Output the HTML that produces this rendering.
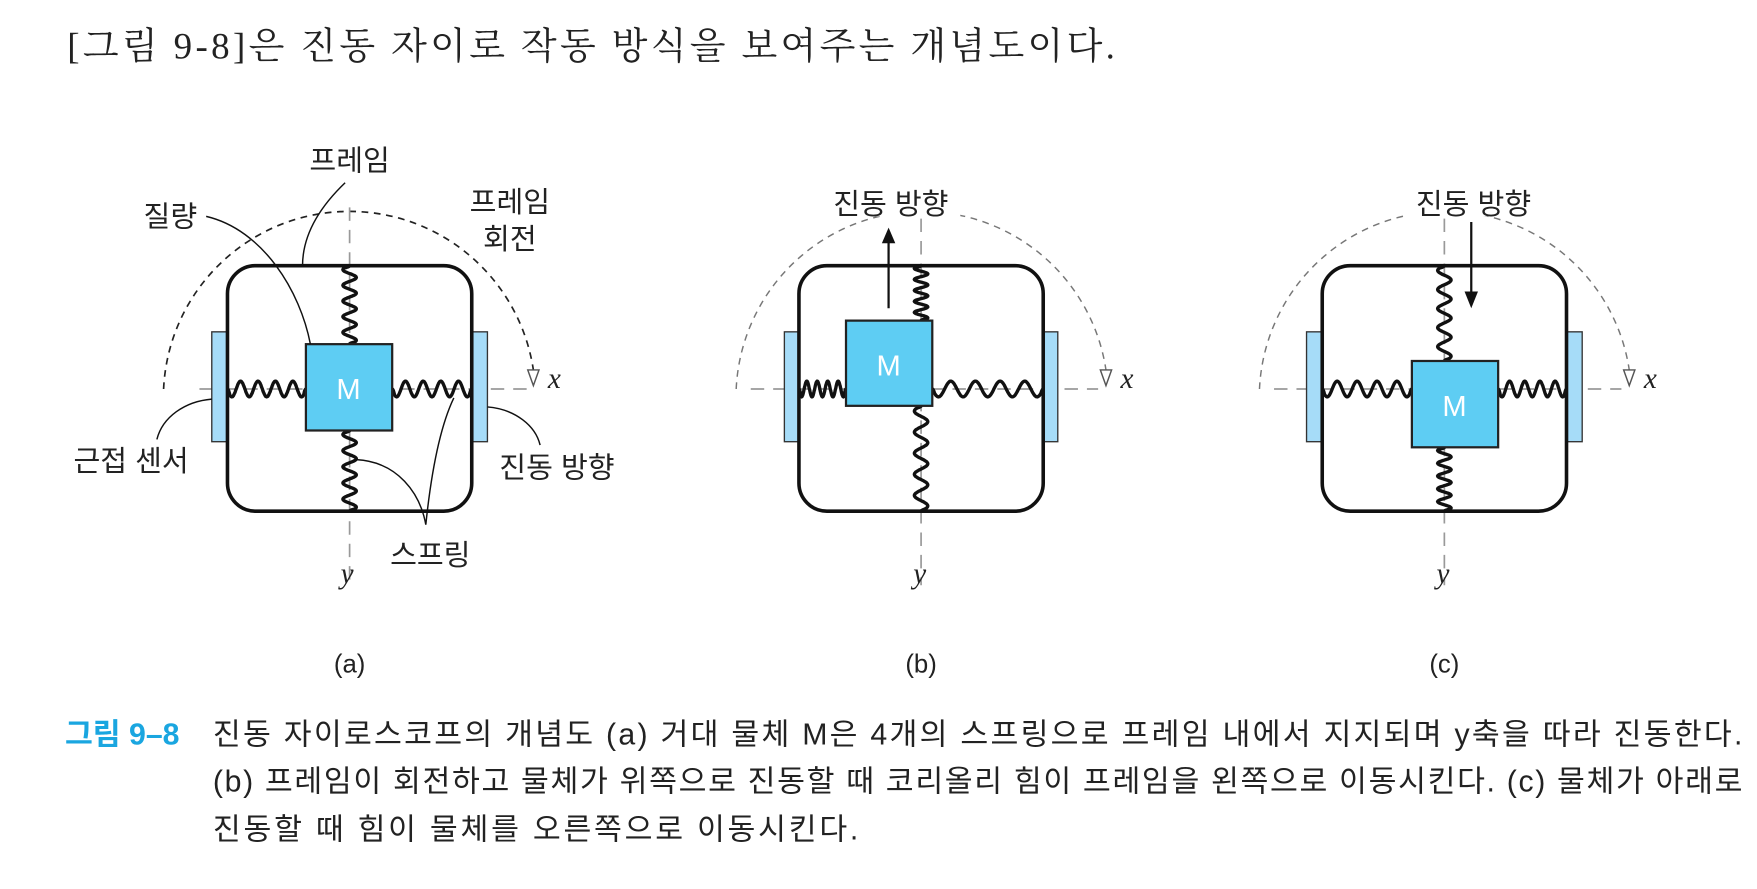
<!DOCTYPE html>
<html><head><meta charset="utf-8">
<style>
html,body{margin:0;padding:0;background:#fff;}
svg{display:block;}
.t{font-family:"Liberation Sans","Noto Sans CJK KR",sans-serif;fill:#222;}
.ax{stroke:#999;stroke-width:1.5;stroke-dasharray:12 8;fill:none;}
.fr{fill:none;stroke:#111;stroke-width:3.2;}
.m{fill:#5ecdf3;stroke:#222;stroke-width:2;}
.s{fill:#a6dcf8;stroke:#333;stroke-width:1.2;}
.sp{fill:none;stroke:#111;stroke-width:3;}
.ld{fill:none;stroke:#111;stroke-width:1.3;}
.i{font-family:"Liberation Serif",serif;font-style:italic;fill:#222;font-size:26px;}
</style></head>
<body>
<svg id="sv" width="1757" height="889" viewBox="0 0 1568 793" preserveAspectRatio="none" xmlns="http://www.w3.org/2000/svg">
<text x="60" y="52" style="font-family:'Liberation Serif','Noto Serif CJK KR','Noto Serif CJK SC',serif;font-size:33px;fill:#222" textLength="935">[그림 9-8]은 진동 자이로 작동 방식을 보여주는 개념도이다.</text>

<!-- (a) -->
<path d="M146,347 A166,166 0 0 1 476,330" fill="none" stroke="#222" stroke-width="1.5" stroke-dasharray="6 5"/>
<polygon points="471,330 481,330 476,344" fill="#fff" stroke="#555" stroke-width="1.3"/>
<line class="ax" x1="178" y1="347" x2="470" y2="347"/>
<line class="ax" x1="312" y1="185" x2="312" y2="522"/>
<rect class="s" x="189" y="296" width="14" height="98"/>
<rect class="s" x="421" y="296" width="14" height="98"/>
<rect class="fr" x="203" y="237" width="218" height="219" rx="25"/>
<g id="spa"></g>
<rect class="m" x="273" y="307" width="77" height="77"/>
<text x="311" y="356" class="t" style="fill:#fff;font-size:26px" text-anchor="middle">M</text>
<text class="i" x="489" y="346">x</text>
<text class="i" x="304" y="520">y</text>
<text class="t" x="312" y="152" font-size="26" text-anchor="middle">프레임</text>
<text class="t" x="152" y="202" font-size="26" text-anchor="middle">질량</text>
<text class="t" x="455" y="189" font-size="26" text-anchor="middle">프레임</text>
<text class="t" x="455" y="222" font-size="26" text-anchor="middle">회전</text>
<text class="t" x="117" y="420" font-size="26" text-anchor="middle">근접 센서</text>
<text class="t" x="497" y="426" font-size="26" text-anchor="middle">진동 방향</text>
<text class="t" x="384" y="504" font-size="26" text-anchor="middle">스프링</text>
<path class="ld" d="M308,163 C285,185 270,210 270,237"/>
<path class="ld" d="M184,193 C235,205 268,260 277,307"/>
<path class="ld" d="M189,356 C165,358 145,372 140,392"/>
<path class="ld" d="M435,363 C460,365 478,380 482,397"/>
<path class="ld" d="M318,410 C355,412 375,440 380,468"/>
<path class="ld" d="M405,355 C393,380 385,420 380,468"/>

<!-- (b) -->
<path d="M657,347 A166,166 0 0 1 987,330" fill="none" stroke="#777" stroke-width="1.3" stroke-dasharray="6 5"/>
<polygon points="982,330 992,330 987,344" fill="#fff" stroke="#555" stroke-width="1.3"/>
<line class="ax" x1="670" y1="347" x2="980" y2="347"/>
<line class="ax" x1="822" y1="195" x2="822" y2="522"/>
<rect class="s" x="700" y="296" width="13" height="98"/>
<rect class="s" x="931" y="296" width="13" height="98"/>
<rect class="fr" x="713" y="237" width="218" height="219" rx="25"/>
<g id="spb"></g>
<rect class="m" x="755" y="286" width="77" height="76"/>
<text x="793" y="335" class="t" style="fill:#fff;font-size:26px" text-anchor="middle">M</text>
<line x1="793" y1="275" x2="793" y2="215" stroke="#111" stroke-width="2"/>
<polygon points="787,217 799,217 793,203" fill="#111"/>
<rect x="733" y="163" width="124" height="30" fill="#fff"/>
<text class="t" x="795" y="191" font-size="26" text-anchor="middle">진동 방향</text>
<text class="i" x="1000" y="346">x</text>
<text class="i" x="815" y="520">y</text>

<!-- (c) -->
<path d="M1124,347 A166,166 0 0 1 1454,330" fill="none" stroke="#777" stroke-width="1.3" stroke-dasharray="6 5"/>
<polygon points="1449,330 1459,330 1454,344" fill="#fff" stroke="#555" stroke-width="1.3"/>
<line class="ax" x1="1137" y1="347" x2="1447" y2="347"/>
<line class="ax" x1="1289" y1="195" x2="1289" y2="522"/>
<rect class="s" x="1166" y="296" width="14" height="98"/>
<rect class="s" x="1398" y="296" width="14" height="98"/>
<rect class="fr" x="1180" y="237" width="218" height="219" rx="25"/>
<g id="spc"></g>
<rect class="m" x="1260" y="322" width="77" height="77"/>
<text x="1298" y="371" class="t" style="fill:#fff;font-size:26px" text-anchor="middle">M</text>
<rect x="1253" y="163" width="124" height="30" fill="#fff"/>
<text class="t" x="1315" y="191" font-size="26" text-anchor="middle">진동 방향</text>
<line x1="1313" y1="198" x2="1313" y2="262" stroke="#111" stroke-width="2"/>
<polygon points="1307,260 1319,260 1313,275" fill="#111"/>
<text class="i" x="1467" y="346">x</text>
<text class="i" x="1282" y="520">y</text>

<text class="t" x="312" y="600" font-size="23" text-anchor="middle">(a)</text>
<text class="t" x="822" y="600" font-size="23" text-anchor="middle">(b)</text>
<text class="t" x="1289" y="600" font-size="23" text-anchor="middle">(c)</text>

<text class="t" x="58" y="664" font-size="27" style="fill:#1aa6e0;font-weight:bold">그림 9–8</text>
<text class="t" x="190" y="664" font-size="27" textLength="1365">진동 자이로스코프의 개념도 (a) 거대 물체 M은 4개의 스프링으로 프레임 내에서 지지되며 y축을 따라 진동한다.</text>
<text class="t" x="190" y="706" font-size="27" textLength="1365">(b) 프레임이 회전하고 물체가 위쪽으로 진동할 때 코리올리 힘이 프레임을 왼쪽으로 이동시킨다. (c) 물체가 아래로</text>
<text class="t" x="190" y="749" font-size="27" textLength="576">진동할 때 힘이 물체를 오른쪽으로 이동시킨다.</text>
</svg>
<script>
function spring(x1,y1,x2,y2,n,amp){
  var dx=x2-x1,dy=y2-y1,L=Math.sqrt(dx*dx+dy*dy),ux=dx/L,uy=dy/L,px=-uy,py=ux,pts=[];
  var N=200;
  for(var i=0;i<=N;i++){var t=i/N;var s=t*L;var a=Math.sin(t*n*2*Math.PI)*amp;
    var e=Math.min(1,Math.min(s,L-s)/2);a*=e;
    pts.push((x1+ux*s+px*a).toFixed(1)+","+(y1+uy*s+py*a).toFixed(1));}
  return '<polyline class="sp" points="'+pts.join(" ")+'"/>';
}
document.getElementById("spa").innerHTML=spring(312,237,312,307,5,6)+spring(312,384,312,456,5,6)+spring(203,347,273,347,4.5,7)+spring(350,347,421,347,4.5,7);
document.getElementById("spb").innerHTML=spring(822,237,822,286,5,6)+spring(822,362,822,456,5,6)+spring(713,347,755,347,4.5,7)+spring(832,347,931,347,4.5,7);
document.getElementById("spc").innerHTML=spring(1289,237,1289,322,5,6)+spring(1289,399,1289,456,5,6)+spring(1180,347,1260,347,4.5,7)+spring(1337,347,1398,347,4.5,7);
</script>
</body></html>
